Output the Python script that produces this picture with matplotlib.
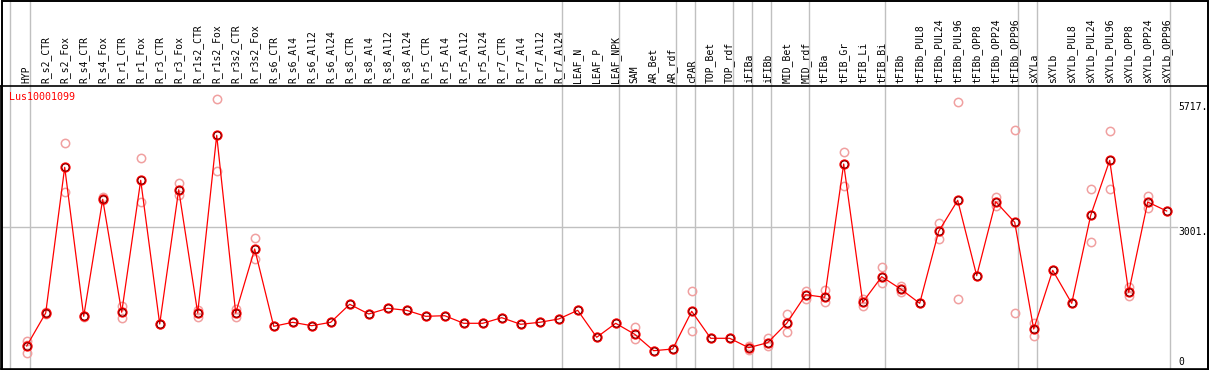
import matplotlib
matplotlib.use("Agg")
import matplotlib.pyplot as plt
from matplotlib.patches import Rectangle
from matplotlib.transforms import blended_transform_factory, offset_copy

# --- data ---
gene = "Lus10001099"

labels = ["HYP",
          "R_s2_CTR", "R_s2_Fox", "R_s4_CTR", "R_s4_Fox", "R_r1_CTR", "R_r1_Fox",
          "R_r3_CTR", "R_r3_Fox", "R_r1s2_CTR", "R_r1s2_Fox", "R_r3s2_CTR", "R_r3s2_Fox",
          "R_s6_CTR", "R_s6_Al4", "R_s6_Al12", "R_s6_Al24",
          "R_s8_CTR", "R_s8_Al4", "R_s8_Al12", "R_s8_Al24",
          "R_r5_CTR", "R_r5_Al4", "R_r5_Al12", "R_r5_Al24",
          "R_r7_CTR", "R_r7_Al4", "R_r7_Al12", "R_r7_Al24",
          "LEAF_N", "LEAF_P", "LEAF_NPK",
          "SAM", "AR_Bet", "AR_rdf", "cPAR", "TOP_Bet", "TOP_rdf",
          "iFIBa", "iFIBb", "MID_Bet", "MID_rdf",
          "tFIBa", "tFIB_Gr", "tFIB_Li", "tFIB_Bi",
          "tFIBb", "tFIBb_PUL8", "tFIBb_PUL24", "tFIBb_PUL96",
          "tFIBb_OPP8", "tFIBb_OPP24", "tFIBb_OPP96",
          "sXYLa", "sXYLb", "sXYLb_PUL8", "sXYLb_PUL24", "sXYLb_PUL96",
          "sXYLb_OPP8", "sXYLb_OPP24", "sXYLb_OPP96"]

means = [488, 1187, 4276, 1117, 3598, 1202, 4000, 954, 3801, 1187, 4954, 1187, 2544,
         905, 990, 918, 990, 1372, 1166, 1287, 1244, 1117, 1130, 969, 969, 1088, 948,
         990, 1060, 1244, 672, 969, 736, 388, 424, 1223, 651, 651, 452, 558, 969, 1575,
         1520, 4346, 1414, 1957, 1696, 1393, 2919, 3576, 1978, 3547, 3110, 848, 2092,
         1393, 3258, 4424, 1626, 3540, 3350]

reps = [[594, 509, 346], [1170, 1205], [4785, 3759], [1110, 1125], [3653, 3583],
        [1336, 1075], [4467, 3534], [945, 963], [3937, 3682], [1244, 1109],
        [5717, 4191], [1272, 1102], [2771, 2326],
        [905], [990], [918], [990], [1372], [1166], [1287], [1244], [1117], [1130],
        [969], [969], [1088], [948], [990], [1060], [1244], [672], [969],
        [897, 630], [388], [424], [1647, 799], [651], [651], [494, 396], [664, 488],
        [1160, 791], [1654, 1478], [1681, 1427], [4600, 3880], [1484, 1345],
        [2156, 1817], [1639, 1750], [1393], [3089, 2750], [5667, 1478], [1978],
        [3653, 3456], [5067, 1181], [969, 700], [2092], [1393], [3810, 2686],
        [5039, 3810], [1732, 1548], [3667, 3420], [3350]]

group_sizes = [1, 28, 3, 3, 1, 2, 1, 1, 2, 4, 7, 1, 7]

ytick_vals = [5717, 3001, 0]
ytick_labels = ["5717.", "3001.", "0"]

# --- figure ---
W, H = 1209, 370
fig = plt.figure(figsize=(W / 100, H / 100), dpi=100)
ax = fig.add_axes([1 / W, 1 / H, 1207 / W, 283 / H])
mono = "DejaVu Sans Mono"

x = list(range(len(labels)))
ax.set_xlim(-1.3526, 62.174)
ax.set_ylim(0, 6000)

# grey separators between sample groups, running up through the label strip
ytop = 369 / 283
ax.axvline(-0.88, ymin=0, ymax=ytop, color="#c0c0c0", lw=1.0, clip_on=False, zorder=1)
end = -1
for g in group_sizes:
    end += g
    ax.axvline(end + 0.2, ymin=0, ymax=ytop, color="#c0c0c0", lw=1.0, clip_on=False, zorder=1)

ax.axhline(ytick_vals[1], xmin=0, xmax=0.974, color="#c0c0c0", lw=1.0, zorder=1)

# replicates, mean line, mean markers
for i, r in enumerate(reps):
    ax.plot([i] * len(r), r, "o", ms=6, mfc="none", mec="#f0a0a0", mew=1.1, zorder=2)
ax.plot(x, means, "-", color="red", lw=0.9, zorder=3)
ax.plot(x, means, "o", ms=6, mfc="none", mec="red", mew=1.4, zorder=4)
ax.plot(x, means, "o", ms=5.2, mfc="none", mec="#400000", mew=0.5, zorder=5)

# sample names on top
ax.xaxis.tick_top()
ax.set_xticks(x)
ax.set_xticklabels(labels, rotation=90, fontsize=7, family=mono)
ax.tick_params(axis="x", length=0, pad=2)
ax.set_yticks([])

# value labels on the right
tr = blended_transform_factory(ax.transAxes, ax.transData)
for v, t, dy in zip(ytick_vals, ytick_labels, [-7.4, -4.5, 7.3]):
    ax.text(0.9757, v, t, transform=offset_copy(tr, fig=fig, y=dy, units="dots"),
            fontsize=7, family=mono, va="center", ha="left")

ax.text(0.0069, 0.961, gene, transform=ax.transAxes, color="red",
        fontsize=7.2, family=mono, va="center", ha="left")

for s in ax.spines.values():
    s.set_linewidth(1.2)

# outer frame around the whole thing
fig.patches.append(Rectangle((1.5 / W, 0.5 / H), 1206.5 / W, 369 / H,
                             transform=fig.transFigure, fill=False, ec="black", lw=1.4))

fig.savefig("out.png", dpi=100)
